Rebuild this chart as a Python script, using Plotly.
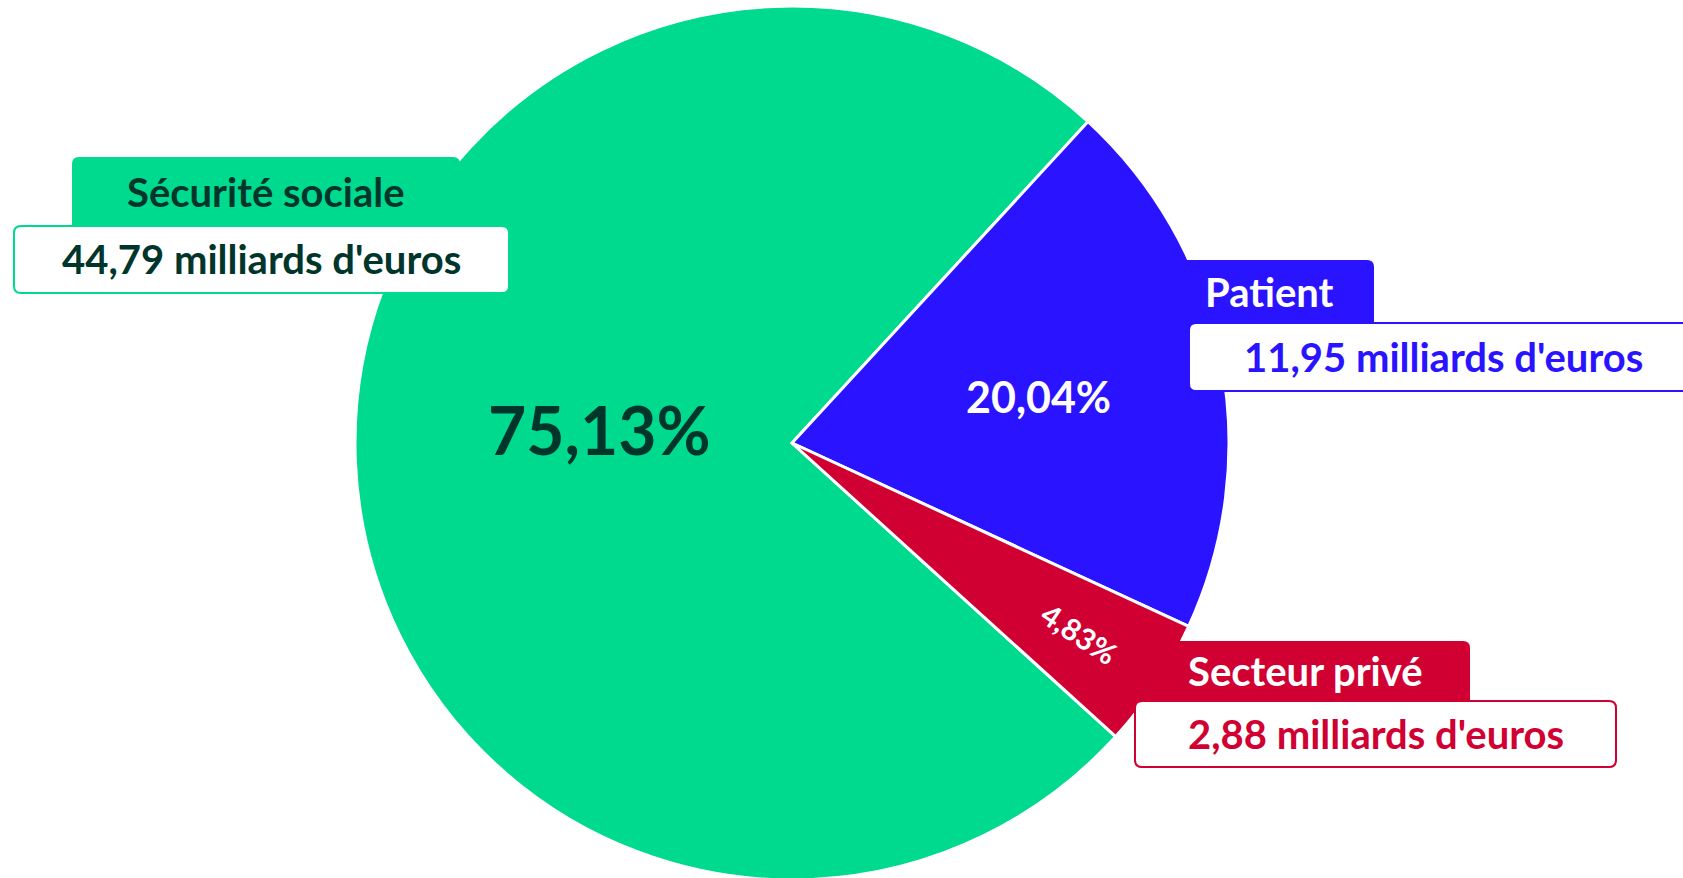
import math
import plotly.graph_objects as go

labels = ["Sécurité sociale", "Patient", "Secteur privé"]
values = [44.79, 11.95, 2.88]
colors = ["#00DA8E", "#2A14FF", "#D10032"]
pct_colors = ["#00352B", "#FFFFFF", "#FFFFFF"]
pct_sizes = [66, 43, 30]
header_text_colors = ["#00352B", "#FFFFFF", "#FFFFFF"]
value_text_colors = ["#00352B", "#2A14FF", "#D10032"]
unit = "milliards d'euros"

W, H = 1683, 882          # figure slightly taller than the window: pie is cut at the bottom
FONT = "Lato"
CX, CY, R = 792, 443, 437  # pie centre / radius in pixels
ROT = 132.2
LABEL_SIZE = 40
PCT_RADIUS = [0.44, 0.575, None]  # fraction of radius for the horizontal % labels
PCT_YSHIFT = [22, -3, 0]

# callout boxes in pixels: (left, top, width, height)
header_boxes = [(72, 157, 388, 69), (1164, 260, 210, 64), (1140, 641, 330, 60)]
value_boxes = [(13, 225, 497, 69), (1188, 322, 530, 70), (1134, 700, 483, 68)]


def fmt(v):
    return f"{v:.2f}".replace(".", ",")


def X(px):
    return px / W


def Y(py):
    return 1 - py / H


def rounded_path(l, t, w, h, r, round_bottom=True):
    rb = r if round_bottom else 0
    p = [f"M {X(l + r)} {Y(t)}", f"L {X(l + w - r)} {Y(t)}",
         f"Q {X(l + w)} {Y(t)} {X(l + w)} {Y(t + r)}",
         f"L {X(l + w)} {Y(t + h - rb)}"]
    if rb:
        p.append(f"Q {X(l + w)} {Y(t + h)} {X(l + w - rb)} {Y(t + h)}")
    p.append(f"L {X(l + rb)} {Y(t + h)}")
    if rb:
        p.append(f"Q {X(l)} {Y(t + h)} {X(l)} {Y(t + h - rb)}")
    p += [f"L {X(l)} {Y(t + r)}", f"Q {X(l)} {Y(t)} {X(l + r)} {Y(t)}", "Z"]
    return " ".join(p)


fig = go.Figure()
fig.add_trace(go.Pie(
    labels=labels, values=values, sort=False, direction="clockwise", rotation=ROT,
    marker=dict(colors=colors, line=dict(color="white", width=3)),
    texttemplate=["", "", "<b>%{percent:.2%}</b>"],
    textposition="inside", insidetextorientation="radial",
    textfont=dict(family=FONT, size=pct_sizes, color=pct_colors),
    domain=dict(x=[X(CX - R), X(CX + R)], y=[Y(CY + R), Y(CY - R)]),
    hoverinfo="skip", showlegend=False,
))

shapes = []
annotations = []

# horizontal percentage labels for the two large slices, placed on each slice's mid-angle
total = sum(values)
start = ROT
for i, v in enumerate(values):
    span = v / total * 360
    mid = math.radians(start + span / 2)
    start += span
    if PCT_RADIUS[i] is None:
        continue
    rr = PCT_RADIUS[i] * R
    px, py = CX + rr * math.sin(mid), CY - rr * math.cos(mid)
    annotations.append(dict(
        text=f"<b>{fmt(v / total * 100)}%</b>", xref="paper", yref="paper",
        x=X(px), y=Y(py), xanchor="center", yanchor="middle", showarrow=False,
        yshift=PCT_YSHIFT[i],
        font=dict(family=FONT, size=pct_sizes[i], color=pct_colors[i]),
    ))

for i, lab in enumerate(labels):
    l, t, w, h = header_boxes[i]
    shapes.append(dict(type="path", xref="paper", yref="paper",
                       path=rounded_path(l, t, w, h, 7, round_bottom=False),
                       fillcolor=colors[i], line=dict(width=0), layer="above"))
    annotations.append(dict(
        text=f"<b>{lab}</b>", xref="paper", yref="paper", x=X(l + w / 2), y=Y(t + h / 2),
        xanchor="center", yanchor="middle", showarrow=False,
        font=dict(family=FONT, size=LABEL_SIZE, color=header_text_colors[i]),
    ))
    l, t, w, h = value_boxes[i]
    shapes.append(dict(type="path", xref="paper", yref="paper",
                       path=rounded_path(l + 1, t + 1, w - 2, h - 2, 7),
                       fillcolor="white", line=dict(width=2, color=colors[i]), layer="above"))
    cx_text = l + w / 2 if i != 1 else 1443
    annotations.append(dict(
        text=f"<b>{fmt(values[i])} {unit}</b>", xref="paper", yref="paper",
        x=X(cx_text), y=Y(t + h / 2),
        xanchor="center", yanchor="middle", showarrow=False,
        font=dict(family=FONT, size=LABEL_SIZE, color=value_text_colors[i]),
    ))

fig.update_layout(
    width=W, height=H, margin=dict(l=0, r=0, t=0, b=0),
    paper_bgcolor="white", plot_bgcolor="white",
    separators=", ", shapes=shapes, annotations=annotations, showlegend=False,
)
fig.write_html(
    "out.html",
    config={"displayModeBar": False},
    post_script="document.body.style.margin='0';document.body.style.overflow='hidden';",
)
